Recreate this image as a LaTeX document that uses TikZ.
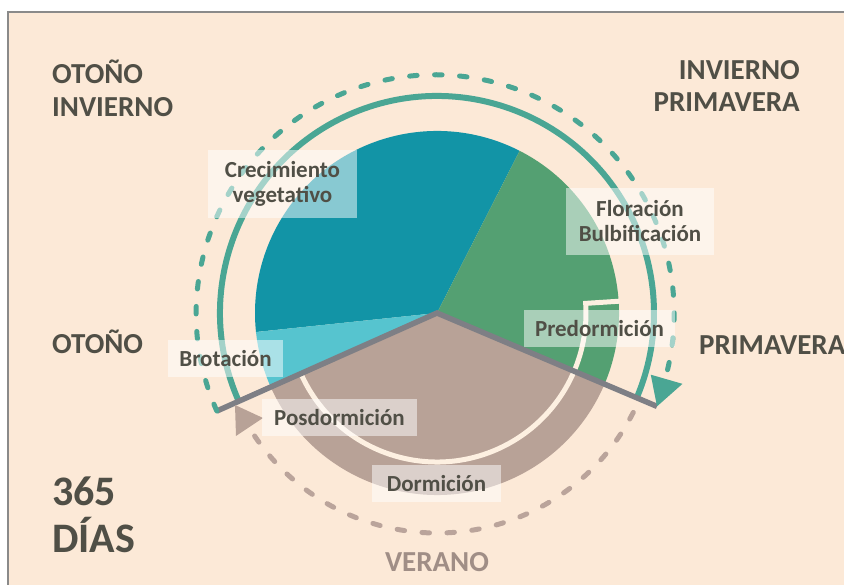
\documentclass[tikz,border=0pt]{standalone}
\usepackage{fontspec}
\setmainfont{Carlito}
\usetikzlibrary{calc}
\definecolor{bg}{HTML}{FCE9D7}
\definecolor{framegray}{HTML}{8A8A8A}
\definecolor{tealdark}{HTML}{1294A6}
\definecolor{teallight}{HTML}{56C4CF}
\definecolor{greenpie}{HTML}{54A072}
\definecolor{brownpie}{HTML}{B8A297}
\definecolor{grayline}{HTML}{7E7F85}
\definecolor{tealarc}{HTML}{4AA694}
\definecolor{browndash}{HTML}{BAA49B}
\definecolor{creamline}{HTML}{FDF0E1}
\definecolor{txt}{HTML}{504F46}
\definecolor{verano}{HTML}{A08E86}
\tikzset{
  lbl/.style={fill=white, fill opacity=0.5, text opacity=1, text=txt, inner sep=0pt,
    font=\fontsize{23}{25}\selectfont\bfseries, align=center, minimum height=37pt},
  season/.style={text=txt, font=\fontsize{29}{32}\selectfont\bfseries, inner sep=0pt},
  bignum/.style={text=txt, font=\fontsize{42}{47}\selectfont\bfseries, inner sep=0pt},
  dasharc/.style={line width=5pt, line cap=round, dash pattern=on 7.5pt off 17.5pt}
}
\begin{document}
\begin{tikzpicture}[x=1pt,y=1pt]
\useasboundingbox (0,0) rectangle (844,585);
\fill[white] (0,0) rectangle (844,585);
\fill[bg] (7.5,0) rectangle (844,573);
\draw[framegray, line width=2pt] (7.5,0) -- (7.5,573) -- (844,573);

\coordinate (C) at (437,272);
% pie sectors
\fill[tealdark] (C) -- ($(C)+(63:182)$) arc[start angle=63, end angle=186, radius=182pt] -- cycle;
\fill[teallight] (C) -- ($(C)+(186:182)$) arc[start angle=186, end angle=204, radius=182pt] -- cycle;
\fill[brownpie] (C) -- ($(C)+(204:182)$) arc[start angle=204, end angle=337, radius=182pt] -- cycle;
\fill[greenpie] (C) -- ($(C)+(337:182)$) arc[start angle=337, end angle=423, radius=182pt] -- cycle;

% cream inner arc
\draw[creamline, line width=5pt, line join=miter] ($(C)+(204:149)$) arc[start angle=204, end angle=363.7, radius=149pt] -- ($(C)+(3.7:183)$);

% solid teal arc
\draw[tealarc, line width=6pt] ($(C)+(204:217)$) arc[start angle=204, end angle=-23, radius=217pt];

% gray line
\coordinate (GL) at ($(C)+(204:241)$);
\coordinate (GR) at ($(C)+(337:239)$);
\draw[grayline, line width=5.5pt] (GL) -- (C) -- (GR);

% dashed teal arc with arrowhead
\draw[tealarc, dasharc] (GL) arc[start angle=204, end angle=-16, radius=239pt];
\fill[tealarc] ($(C)+(-23:239)$) -- ($(C)+(-16.1:222.5)$) -- ($(C)+(-16.1:255.5)$) -- cycle;

% dashed brown arc with arrowhead
\draw[browndash, dasharc] ($(C)+(214:220)$) arc[start angle=214, end angle=335, radius=220pt];
\fill[brownpie] (235,180) -- (263,167) -- (236,149) -- cycle;

% phase labels
\node[lbl, minimum width=149pt, minimum height=68pt] (crec) at (282.5,401) {Crecimiento\\vegetativo};
\node[lbl, minimum width=148pt, minimum height=67pt] (flor) at (640,363.5) {Floración\\Bulbificación};
\node[lbl, minimum width=151pt] (pred) at (599.5,256.5) {Predormición};
\node[lbl, minimum width=115pt] (brot) at (225.5,226.5) {Brotación};
\node[lbl, minimum width=155pt] (posd) at (339.5,167.5) {Posdormición};
\node[lbl, minimum width=129pt] (dorm) at (436.5,101.5) {Dormición};

% seasons
\node[season, anchor=base west] (oto1) at (52,501) {OTOÑO};
\node[season, anchor=base west] (inv1) at (52,468) {INVIERNO};
\node[season, anchor=base east] (inv2) at (800,505) {INVIERNO};
\node[season, anchor=base east] (pri1) at (800,473) {PRIMAVERA};
\node[season, anchor=base west] (oto2) at (52,231) {OTOÑO};
\node[season, anchor=base west] (pri2) at (699,230) {PRIMAVERA};
\node[season, anchor=base, text=verano] (ver) at (437,13) {VERANO};
\node[bignum, anchor=base west] (n365) at (52,79) {365};
\node[bignum, anchor=base west] (dias) at (52,32) {DÍAS};
\end{tikzpicture}
\end{document}
